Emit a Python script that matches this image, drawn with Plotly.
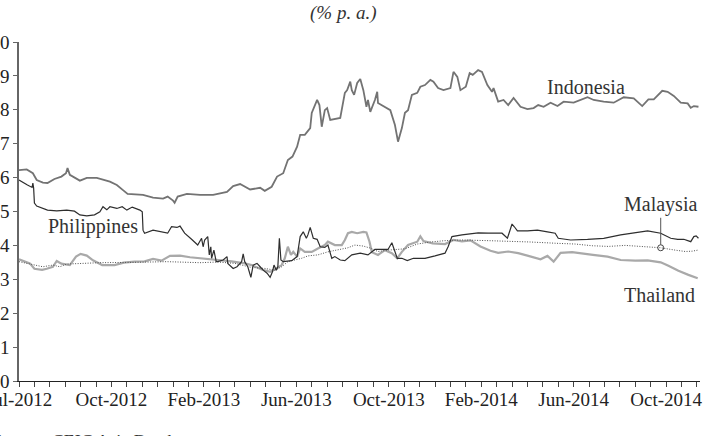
import pandas as pd
import plotly.graph_objects as go

START = pd.Timestamp("2012-07-02")

# x values: days since 2 Jul 2012 ; y values: % p.a.
indo_day = [0, 10, 18, 23, 31, 37, 46, 55, 61, 63, 66, 79, 88, 101, 118, 127, 135, 141, 161, 174, 187, 193, 200, 202, 206, 218,
            235, 252, 270, 278, 287, 300, 313, 319, 328, 335, 343, 349, 355, 361, 365, 371, 378, 380, 387, 390, 393, 397, 400,
            404, 417, 423, 426, 430, 432, 435, 439, 443, 447, 451, 453, 456, 462, 465, 466, 473, 482, 488, 492, 497, 501, 505,
            510, 517, 521, 527, 534, 538, 544, 551, 560, 564, 569, 573, 580, 585, 589, 596, 601, 608, 614, 616, 622, 629, 635,
            642, 651, 660, 668, 674, 681, 690, 699, 707, 720, 738, 746, 759, 772, 785, 798, 809, 817, 824, 835, 842, 850, 859,
            868, 872, 876, 882]
indo_val = [6.22, 6.24, 6.13, 5.93, 5.85, 5.84, 5.96, 6.03, 6.13, 6.28, 6.08, 5.91, 5.99, 5.99, 5.88, 5.78, 5.63, 5.52, 5.49, 5.41,
            5.38, 5.44, 5.32, 5.26, 5.44, 5.52, 5.49, 5.49, 5.58, 5.75, 5.81, 5.65, 5.70, 5.61, 5.73, 6.03, 6.13, 6.52, 6.62,
            6.91, 7.26, 7.26, 7.46, 7.91, 8.29, 8.14, 7.50, 7.99, 8.05, 7.70, 7.76, 8.50, 8.58, 8.83, 8.58, 8.44, 8.79, 8.91,
            8.58, 8.09, 8.29, 7.94, 8.29, 8.53, 8.20, 8.11, 7.99, 7.55, 7.06, 7.46, 7.91, 7.99, 8.44, 8.50, 8.68, 8.73, 8.88,
            8.83, 8.64, 8.58, 8.64, 9.12, 8.97, 8.58, 8.68, 9.08, 9.03, 9.17, 9.12, 8.73, 8.53, 8.64, 8.24, 8.29, 8.14, 8.35,
            8.09, 8.02, 8.05, 8.14, 8.09, 8.21, 8.11, 8.24, 8.21, 8.37, 8.29, 8.24, 8.21, 8.37, 8.34, 8.11, 8.31, 8.31, 8.56,
            8.53, 8.41, 8.21, 8.19, 8.06, 8.11, 8.09]

phil_day = [0, 7, 11, 17, 18, 19, 20, 23, 31, 37, 49, 62, 72, 79, 88, 98, 105, 109, 114, 118, 127, 134, 140, 147, 157, 160, 161,
            163, 174, 187, 193, 198, 205, 209, 215, 224, 232, 237, 239, 241, 245, 247, 249, 250, 253, 256, 258, 265, 270, 271,
            278, 283, 289, 291, 293, 297, 301, 304, 309, 313, 317, 322, 326, 329, 331, 334, 336, 338, 340, 343, 354, 361, 365,
            369, 373, 375, 378, 382, 387, 391, 397, 401, 406, 410, 417, 423, 427, 432, 443, 453, 462, 479, 484, 487, 491, 497,
            504, 512, 527, 540, 553, 557, 562, 575, 596, 609, 627, 634, 638, 640, 643, 647, 660, 673, 686, 696, 700, 716, 738,
            759, 781, 798, 816, 833, 846, 855, 863, 872, 876, 879, 882]
phil_val = [5.93, 5.85, 5.78, 5.71, 5.84, 5.69, 5.25, 5.16, 5.10, 5.04, 5.02, 5.04, 5.01, 4.90, 4.87, 4.90, 4.99, 5.14, 5.05, 5.14,
            5.09, 5.14, 5.04, 5.13, 5.04, 4.99, 4.45, 4.36, 4.45, 4.40, 4.36, 4.55, 4.53, 4.57, 4.36, 4.18, 4.01, 4.21, 3.96,
            4.16, 4.26, 3.72, 3.96, 3.62, 3.86, 3.52, 3.52, 3.57, 3.67, 3.47, 3.32, 3.37, 3.52, 3.75, 3.52, 3.37, 3.06, 3.42,
            3.47, 3.37, 3.27, 3.18, 3.06, 3.22, 3.42, 3.27, 3.37, 4.21, 3.57, 3.52, 3.55, 3.67, 4.26, 4.40, 4.21, 4.31, 4.53,
            4.21, 4.18, 3.96, 3.94, 4.01, 3.62, 3.67, 3.57, 3.55, 3.62, 3.72, 3.77, 3.72, 3.88, 3.88, 4.08, 3.86, 3.62, 3.62,
            3.55, 3.62, 3.62, 3.69, 3.77, 3.96, 4.26, 4.31, 4.37, 4.36, 4.36, 4.21, 4.45, 4.63, 4.55, 4.43, 4.43, 4.45, 4.40,
            4.36, 4.21, 4.16, 4.18, 4.21, 4.31, 4.37, 4.43, 4.36, 4.21, 4.18, 4.18, 4.11, 4.26, 4.28, 4.21]

thai_day = [0, 7, 14, 20, 30, 36, 44, 49, 55, 66, 74, 80, 88, 96, 108, 124, 136, 150, 163, 174, 185, 196, 209, 222, 235, 258, 276,
            293, 302, 315, 326, 332, 341, 345, 349, 353, 356, 361, 365, 371, 380, 388, 397, 401, 410, 419, 423, 427, 432, 439,
            447, 451, 455, 458, 466, 475, 484, 491, 497, 505, 517, 521, 525, 537, 553, 564, 575, 586, 599, 612, 622, 635, 648,
            660, 677, 686, 694, 703, 718, 745, 764, 781, 800, 816, 833, 843, 856, 869, 876, 881]
thai_val = [3.59, 3.53, 3.47, 3.31, 3.28, 3.31, 3.37, 3.54, 3.46, 3.42, 3.67, 3.75, 3.70, 3.56, 3.42, 3.42, 3.49, 3.52, 3.53, 3.60,
            3.55, 3.69, 3.70, 3.65, 3.62, 3.58, 3.53, 3.47, 3.42, 3.29, 3.22, 3.29, 3.42, 3.62, 3.96, 3.72, 3.81, 3.67, 3.91,
            3.81, 3.81, 3.91, 4.01, 4.11, 4.01, 4.01, 4.16, 4.36, 4.40, 4.36, 4.40, 4.38, 4.11, 3.80, 3.72, 3.86, 3.77, 3.62,
            3.81, 4.01, 4.11, 4.27, 4.13, 4.06, 4.04, 4.16, 4.12, 4.15, 3.97, 3.84, 3.78, 3.82, 3.77, 3.70, 3.59, 3.69, 3.52,
            3.78, 3.80, 3.72, 3.67, 3.57, 3.55, 3.56, 3.50, 3.40, 3.25, 3.13, 3.08, 3.03]

malay_day = [0, 10, 18, 31, 44, 53, 62, 83, 105, 148, 192, 235, 258, 280, 302, 319, 332, 341, 349, 358, 367, 375, 388, 401, 414,
             427, 436, 447, 456, 466, 479, 501, 517, 534, 553, 575, 609, 635, 664, 700, 722, 744, 765, 787, 809, 833, 852, 865,
             874, 881]
malay_val = [3.52, 3.47, 3.42, 3.37, 3.42, 3.37, 3.45, 3.47, 3.49, 3.50, 3.52, 3.49, 3.51, 3.47, 3.35, 3.32, 3.27, 3.37, 3.52,
             3.57, 3.62, 3.69, 3.72, 3.81, 3.88, 3.93, 4.01, 3.98, 3.92, 3.82, 3.86, 3.90, 4.04, 4.10, 4.14, 4.16, 4.14, 4.13,
             4.10, 4.06, 4.04, 3.99, 3.97, 4.00, 3.96, 3.93, 3.86, 3.82, 3.83, 3.86]

tick_dates = ["2012-07-02", "2012-10-30", "2013-02-27", "2013-06-27", "2013-10-25", "2014-02-22", "2014-06-22", "2014-10-20"]
tick_labels = ["Jul-2012", "Oct-2012", "Feb-2013", "Jun-2013", "Oct-2013", "Feb-2014", "Jun-2014", "Oct-2014"]
y_ticks = list(range(0, 11))


def to_dates(days):
    return START + pd.to_timedelta(days, unit="D")


FONT = "Liberation Serif"
fig = go.Figure()
fig.add_trace(go.Scatter(x=to_dates(thai_day), y=thai_val, mode="lines", name="Thailand",
                         line=dict(color="#a9a9a9", width=2.2)))
fig.add_trace(go.Scatter(x=to_dates(malay_day), y=malay_val, mode="lines", name="Malaysia",
                         line=dict(color="#505050", width=1, dash="1px,1.5px")))
fig.add_trace(go.Scatter(x=to_dates(indo_day), y=indo_val, mode="lines", name="Indonesia",
                         line=dict(color="#737373", width=1.8)))
fig.add_trace(go.Scatter(x=to_dates(phil_day), y=phil_val, mode="lines", name="Philippines",
                         line=dict(color="#2e2e2e", width=1.2)))

mi = malay_day.index(833)
mx = to_dates([malay_day[mi]])[0]
fig.add_trace(go.Scatter(x=[mx], y=[malay_val[mi]], mode="markers",
                         marker=dict(symbol="circle-open", size=6, color="#444", line=dict(width=1))))

txt = dict(family=FONT, size=20, color="#333")
fig.add_annotation(x=START + pd.Timedelta(days=736), y=8.67, text="Indonesia", showarrow=False, font=txt)
fig.add_annotation(x=START + pd.Timedelta(days=96), y=4.57, text="Philippines", showarrow=False, font=txt)
fig.add_annotation(x=START + pd.Timedelta(days=832), y=2.54, text="Thailand", showarrow=False, font=txt)
fig.add_annotation(x=mx, y=malay_val[mi], text="Malaysia", showarrow=True, arrowhead=0, arrowwidth=1,
                   arrowcolor="#555", ax=0, ay=-43, standoff=3, font=txt)
fig.add_annotation(xref="paper", yref="paper", x=0.476, y=1.086, yanchor="middle", text="<i>(% p. a.)</i>",
                   showarrow=False, font=dict(family=FONT, size=19, color="#333"))
fig.add_annotation(xref="paper", yref="paper", x=-0.043, y=-0.1445, xanchor="left", yanchor="top",
                   text="<i>Source:</i> CEIC Asia Database", showarrow=False,
                   font=dict(family=FONT, size=18, color="#333"))

fig.update_layout(
    width=705, height=436, margin=dict(l=19, r=5, t=42, b=55, autoexpand=False),
    paper_bgcolor="white", plot_bgcolor="white", showlegend=False,
    font=dict(family=FONT, size=19, color="#222"),
)
fig.update_xaxes(type="date", range=["2012-07-02", "2014-12-03"], tickmode="array", automargin=False,
                 tickvals=tick_dates, ticktext=tick_labels, showgrid=False, zeroline=False,
                 showline=True, linecolor="#222", linewidth=1, ticks="outside", ticklen=5, tickcolor="#444",
                 ticklabelstandoff=-4, ticklabeloverflow="allow",
                 minor=dict(ticks="outside", ticklen=5, tickcolor="#444", dtick=20 * 86400000, tick0="2012-07-02",
                            showgrid=False))
fig.update_yaxes(range=[0, 10], tickmode="array", tickvals=y_ticks, showgrid=False, zeroline=False, automargin=False,
                 showline=True, linecolor="#666", linewidth=1.5, ticks="outside", ticklen=4, tickcolor="#666",
                 ticklabelstandoff=0, ticklabeloverflow="allow")

fig.write_html("out.html")
